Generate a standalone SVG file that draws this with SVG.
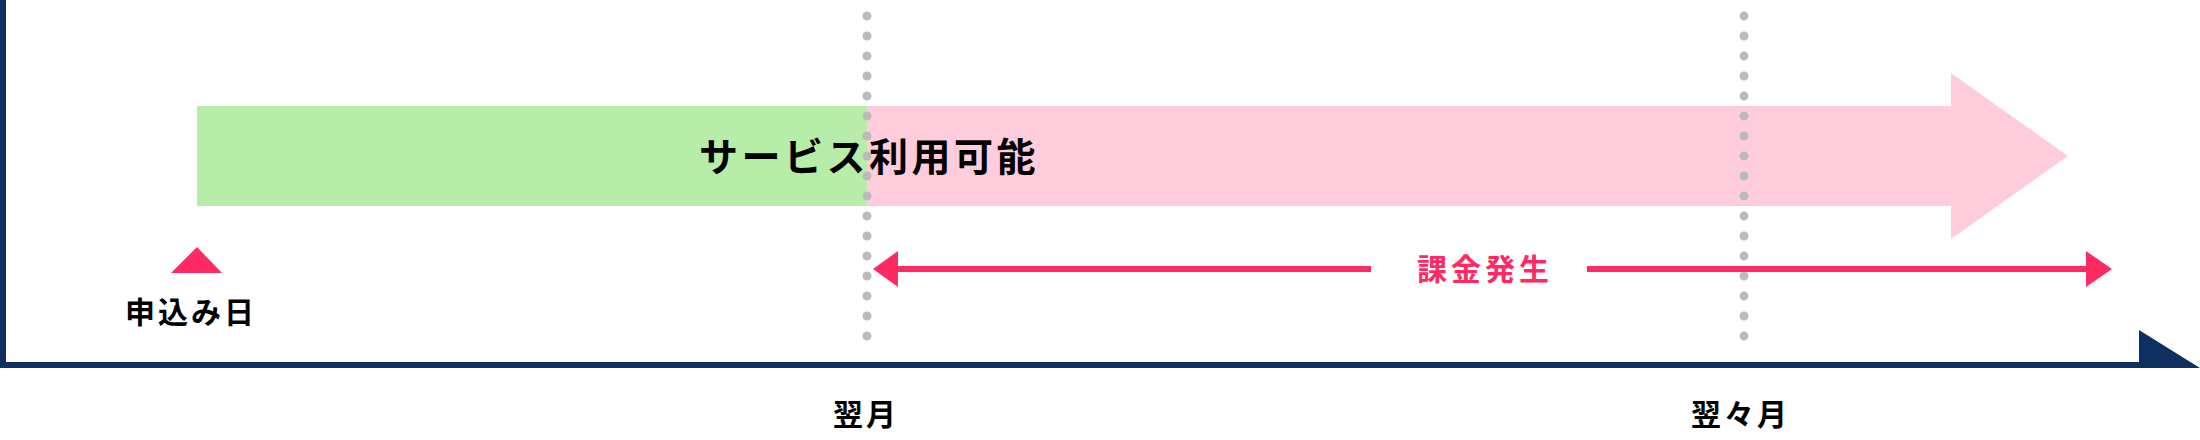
<svg xmlns="http://www.w3.org/2000/svg" width="2200" height="440" viewBox="0 0 2200 440">
  <style>
    .lbl { font-family: "Noto Sans CJK JP", "Noto Sans", sans-serif; font-weight: 700; font-size: 30px; letter-spacing: 3px; fill: #000000; }
    .big { font-size: 39px; letter-spacing: 3.5px; }
    .red { fill: #ff2a63; }
    .dots { stroke: #bbbbbb; stroke-width: 9; stroke-linecap: round; stroke-dasharray: 0 20; fill: none; }
    .charge { stroke: #ff2a63; stroke-width: 6; fill: none; }
    .axis { fill: #0e3061; }
  </style>
  <rect width="2200" height="440" fill="#ffffff"/>

  <g id="axis">
    <rect class="axis" x="0" y="0" width="6" height="368"/>
    <rect class="axis" x="0" y="362" width="2145" height="6"/>
    <polygon class="axis" points="2139,330 2200,368 2139,368"/>
  </g>

  <g id="service-bar">
    <rect x="197" y="106" width="670" height="100" fill="#b8eca9"/>
    <polygon points="867,106 1951,106 1951,73 2068,156 1951,239 1951,206 867,206" fill="#ffccdb"/>
    <text class="lbl big" x="699" y="170.5">サービス利用可能</text>
  </g>

  <g id="month-lines">
    <line class="dots" x1="867" y1="16" x2="867" y2="340"/>
    <line class="dots" x1="1744" y1="16" x2="1744" y2="340"/>
  </g>

  <g id="apply-date">
    <polygon points="171,273 197,247 222,273" fill="#ff2a63"/>
    <text class="lbl" x="125" y="323">申込み日</text>
  </g>

  <g id="connectors">
    <line class="charge" x1="897" y1="269" x2="1371" y2="269"/>
    <polygon points="873,269 898,251 898,287" fill="#ff2a63"/>
    <line class="charge" x1="1587" y1="269" x2="2087" y2="269"/>
    <polygon points="2112,269 2086,251 2086,287" fill="#ff2a63"/>
  </g>

  <g id="charge-label">
    <text class="lbl red" x="1417" y="280" style="letter-spacing:4px">課金発生</text>
  </g>

  <g id="month-labels">
    <text class="lbl" x="833" y="425">翌月</text>
    <text class="lbl" x="1691" y="425">翌々月</text>
  </g>
</svg>
